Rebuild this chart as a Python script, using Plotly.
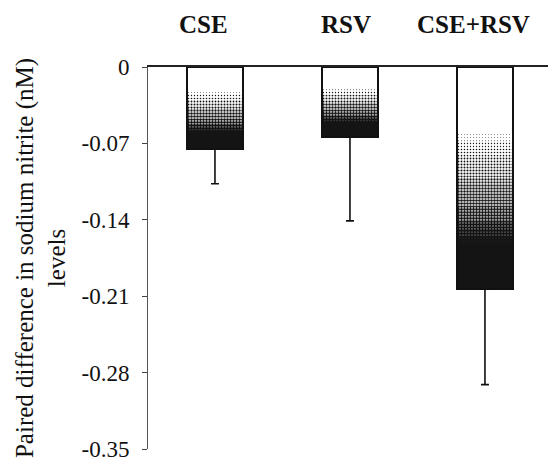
import plotly.graph_objects as go

# Paired differences in sodium nitrite levels (nM) by treatment
categories = ["CSE", "RSV", "CSE+RSV"]
mean_diff = [-0.075, -0.064, -0.203]
err_down = [0.032, 0.077, 0.088]
y_ticks = [0, -0.07, -0.14, -0.21, -0.28, -0.35]
y_tick_text = ["0", "-0.07", "-0.14", "-0.21", "-0.28", "-0.35"]

SERIF = "Liberation Serif, Times New Roman, serif"
N_SEG = 30

fig = go.Figure()

# Shaded fill: each bar is split into thin slices that get denser with depth
for k in range(N_SEG):
    f = (k + 0.5) / N_SEG
    d = min(max((f - 0.30) / 0.55, 0.0), 1.0)
    d = d ** 0.8
    fig.add_trace(go.Bar(
        x=categories,
        y=[v / N_SEG for v in mean_diff],
        base=[v * k / N_SEG for v in mean_diff],
        width=0.41,
        marker=dict(
            color="white",
            line=dict(width=0),
            pattern=dict(shape=".", fgcolor="#141414", bgcolor="white",
                         solidity=d, size=3, fillmode="replace"),
        ),
        hoverinfo="skip",
        showlegend=False,
    ))

# Bar outlines with downward error bars
fig.add_trace(go.Bar(
    x=categories,
    y=mean_diff,
    base=[0, 0, 0],
    width=0.41,
    marker=dict(color="rgba(0,0,0,0)", line=dict(color="#111111", width=2)),
    error_y=dict(type="data", symmetric=False, array=[0, 0, 0],
                 arrayminus=err_down, color="#111111", thickness=1.6, width=4),
    showlegend=False,
))

# Group labels above the zero line
label_shift = [-11, -4, -11]
for cat, dx in zip(categories, label_shift):
    fig.add_annotation(
        x=cat, y=1, xref="x", yref="paper", yanchor="bottom",
        yshift=27, xshift=dx, text=f"<b>{cat}</b>", showarrow=False,
        font=dict(family=SERIF, size=25, color="#111111"),
    )

fig.update_layout(
    width=548, height=461,
    margin=dict(l=148, r=0, t=67, b=12),
    paper_bgcolor="white", plot_bgcolor="white",
    barmode="overlay",
    bargap=0,
    xaxis=dict(
        range=[-0.496, 2.467], showticklabels=False, ticks="",
        showline=True, linecolor="#222222", linewidth=1.5, mirror=False,
        side="top", showgrid=False, zeroline=False,
    ),
    yaxis=dict(
        range=[-0.35, 0], tickvals=y_ticks, ticktext=y_tick_text,
        ticks="outside", ticklen=5, tickcolor="#444444",
        ticklabelstandoff=8, ticklabeloverflow="allow",
        showline=True, linecolor="#555555", linewidth=1,
        showgrid=False, zeroline=False, automargin=False,
        tickfont=dict(family=SERIF, size=23, color="#111111"),
        title=dict(text="Paired difference in sodium nitrite (nM)<br>levels",
                   font=dict(family=SERIF, size=25, color="#111111"),
                   standoff=8),
    ),
)

fig.write_html("out.html")
